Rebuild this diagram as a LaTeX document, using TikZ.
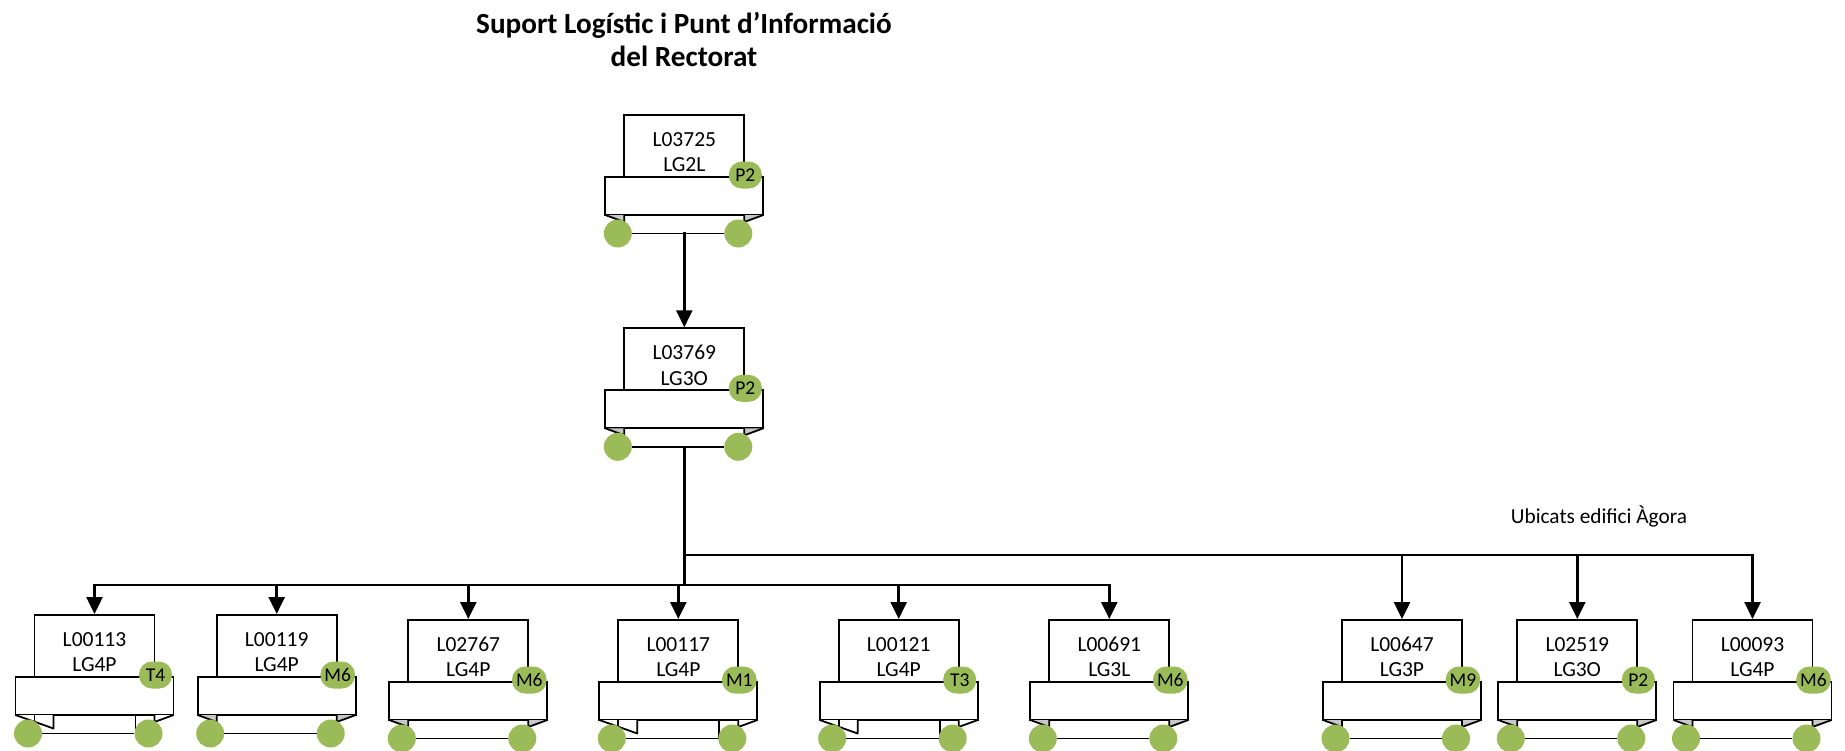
\documentclass[tikz,border=0pt]{standalone}
\usepackage{fontspec}
\setmainfont{Carlito}
\usetikzlibrary{arrows.meta,calc}
\definecolor{badgegreen}{RGB}{155,187,89}
\definecolor{foldgrey}{RGB}{200,200,200}
\tikzset{
    org chart/.style = {x=1pt, y=-1pt, >={Triangle[length=17pt, width=16pt]}},
    conn/.style      = {line width=2.5pt, line cap=rect},
    outline/.style   = {line width=1.8pt},
    posbox/.style    = {draw, outline, fill=white, anchor=north,
                        minimum width=120pt, minimum height=74pt, inner sep=0pt,
                        align=center, font=\fontsize{21.5}{25.5}\selectfont},
    banner/.style    = {draw, outline, fill=white,
                        minimum width=158pt, minimum height=38pt, inner sep=0pt},
    fold/.style      = {draw, outline, fill=foldgrey, line join=round},
    deepfold/.style  = {fold, fill=white},
    foot/.style      = {circle, fill=badgegreen, minimum size=28pt, inner sep=0pt},
    tag/.style       = {fill=badgegreen, rounded corners=13pt, minimum height=27pt,
                        minimum width=33pt, inner xsep=4pt, inner ysep=0pt,
                        font=\fontsize{19.5}{21}\selectfont},
    heading/.style   = {align=center, inner sep=0pt,
                        font=\bfseries\fontsize{29.2}{33}\selectfont},
    note/.style      = {anchor=west, inner sep=0pt, font=\fontsize{21.3}{24}\selectfont}
}
% #1 code (also the node name), #2 centre x, #3 box top, #4 level, #5 badge,
% #6 deep fold (1) or flat fold (0)
\newcommand{\posunit}[6]{%
  \node[posbox] (#1) at (#2,#3) {#1\\#4};
  \node[banner] (#1 ban) at (#2,#3+82) {};
  \ifnum#6=1
    \draw[deepfold] (#2-79,#3+101) -- (#2-41,#3+114.5) -- (#2-41,#3+101);
    \draw[outline] (#2-60,#3+101) -- (#2-60,#3+107);
    \draw[deepfold] (#2+79,#3+101) -- (#2+60,#3+108) -- (#2+60,#3+101);
    \draw[outline] (#2+41,#3+101) -- (#2+41,#3+119.5);
  \else
    \draw[fold] (#2-79,#3+101) -- (#2-60,#3+108) -- (#2-60,#3+101);
    \draw[fold] (#2+79,#3+101) -- (#2+60,#3+108) -- (#2+60,#3+101);
  \fi
  \node[foot] (#1 l) at (#2-66.5,#3+119.5) {};
  \node[foot] (#1 r) at (#2+54,#3+119.5) {};
  \coordinate (#1 base) at (#2,#3+119.5);
  \draw[outline] (#1 l) -- (#1 r);
  \node[tag] (#1 tag) at (#2+61,#3+61) {#5};
}

\begin{document}
\begin{tikzpicture}[org chart]
\useasboundingbox (0,0) rectangle (1845,750);

% title
\node[heading] (title) at (684,39) {Suport Logístic i Punt d’Informació\\del Rectorat};

% upper levels
\posunit{L03725}{684.3}{114}{LG2L}{P2}{0}
\posunit{L03769}{684.3}{327.3}{LG3O}{P2}{0}
\draw[conn,->] (L03725 base) -- (L03769.north);

% lower level
\posunit{L00113}{94.5}{614}{LG4P}{T4}{1}
\posunit{L00119}{276.7}{614}{LG4P}{M6}{0}
\posunit{L02767}{468.3}{619}{LG4P}{M6}{0}
\posunit{L00117}{678.3}{619}{LG4P}{M1}{1}
\posunit{L00121}{898.7}{619}{LG4P}{T3}{1}
\posunit{L00691}{1109.3}{619}{LG3L}{M6}{0}
\posunit{L00647}{1402}{619}{LG3P}{M9}{0}
\posunit{L02519}{1577.3}{619}{LG3O}{P2}{0}
\posunit{L00093}{1752.5}{619}{LG4P}{M6}{0}

\node[note] (agora) at (1510.7,516.5) {Ubicats edifici Àgora};

% buses
\coordinate (left bus) at (684.3,585);
\coordinate (right bus) at (684.3,555);
\draw[conn] (L03769 base) -- (left bus);
\draw[conn] (L00113.north |- left bus) -- (L00691.north |- left bus);
\draw[conn] (right bus) -- (L00093.north |- right bus);
\foreach \u in {L00113,L00119,L02767,L00117,L00121,L00691}
  \draw[conn,->] (\u.north |- left bus) -- (\u.north);
\foreach \u in {L00647,L02519,L00093}
  \draw[conn,->] (\u.north |- right bus) -- (\u.north);

\end{tikzpicture}
\end{document}
